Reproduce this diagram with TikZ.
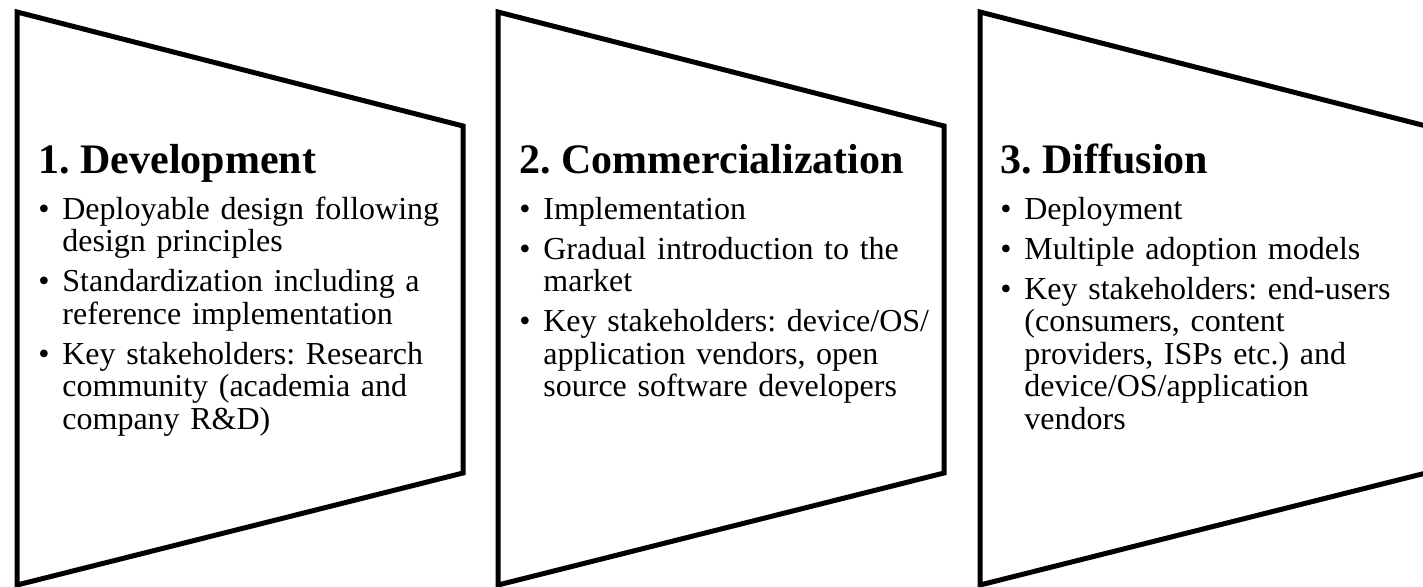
\documentclass[tikz,border=0pt]{standalone}
\usepackage{fontspec}
\setmainfont{Liberation Serif}
\usepackage{tikz}
\frenchspacing

% title line and bullet points inside a stage
\newcommand{\stagetitle}[1]{{\fontsize{21}{25}\selectfont\bfseries #1\par}\vspace{3pt}}
\newcommand{\stagepoint}[1]{\par\vspace{3.75pt}\hangindent=12pt\hangafter=1\noindent
  \makebox[12pt][l]{\textbullet}#1\par}

\begin{document}
\begin{tikzpicture}[x=0.5pt,y=0.5pt,
    stage/.style={line width=2.5pt,line join=miter},
    stagetext/.style={anchor=base west,inner sep=0pt,text width=215pt,
      font=\fontsize{16}{16.25}\selectfont}]
    \useasboundingbox (0,0) rectangle (1423,586);
    \fill[white] (0,0) rectangle (1423,586);
    \clip (0,0) rectangle (1423,586);
    % the three stage shapes
    \foreach \sx in {17,498,980}
      \draw[stage] (\sx,574) -- (\sx+446,460) -- (\sx+446,113) -- (\sx,1) -- cycle;
    \node[stagetext] (dev) at (38,413) {\raggedright\stagetitle{1. Development}%
      \stagepoint{Deployable design following\newline design principles}%
      \stagepoint{Standardization including a\newline reference implementation}%
      \stagepoint{Key stakeholders: Research\newline community (academia and\newline company R\&D)}};
    \node[stagetext] (com) at (519,413) {\raggedright\stagetitle{2. Commercialization}%
      \stagepoint{Implementation}%
      \stagepoint{Gradual introduction to the\newline market}%
      \stagepoint{Key stakeholders: device/OS/\newline application vendors, open\newline source software developers}};
    \node[stagetext] (dif) at (1000,413) {\raggedright\stagetitle{3. Diffusion}%
      \stagepoint{Deployment}%
      \stagepoint{Multiple adoption models}%
      \stagepoint{Key stakeholders: end-users\newline (consumers, content\newline providers, ISPs etc.) and\newline device/OS/application\newline vendors}};
\end{tikzpicture}
\end{document}
